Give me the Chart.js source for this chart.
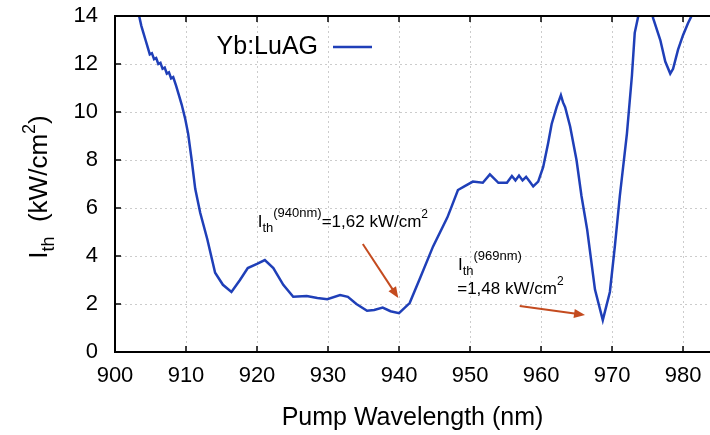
<!DOCTYPE html>
<html>
<head>
<meta charset="utf-8">
<script src="https://cdn.jsdelivr.net/npm/chart.js@4"></script>
<style>
body{margin:0;background:#fff;}
#wrap{width:710px;height:435px;position:relative;}
</style>
</head>
<body>
<div id="wrap"><canvas id="thrChart"></canvas></div>
<script>
/* DATA */
const wavelength = [903.0,903.4,903.7,904.0,904.3,904.6,904.9,905.2,905.5,905.8,906.1,906.4,906.7,907.0,907.3,907.6,907.9,908.2,908.6,909.0,909.4,909.9,910.3,910.8,911.3,912.0,913.0,914.1,915.2,916.4,917.6,918.7,920.0,921.1,922.3,923.7,925.1,927.0,928.5,929.9,931.7,932.8,934.0,935.5,936.5,937.7,938.8,940.0,941.5,943.0,944.8,946.8,947.2,948.3,949.2,950.4,951.8,952.8,954.0,955.2,955.9,956.4,956.9,957.4,957.9,958.4,958.9,959.6,960.3,961.0,961.5,962.2,962.8,963.1,963.4,964.1,965.0,965.7,966.5,967.6,968.7,969.7,970.4,971.1,972.1,972.8,973.2,973.7,974.3,975.3,975.8,976.8,977.5,978.2,978.6,979.3,980.0,980.7,981.2,982.0];
const threshold = [14.4,14.0,13.6,13.3,13.0,12.7,12.4,12.45,12.2,12.25,12.0,12.05,11.8,11.85,11.6,11.65,11.4,11.45,11.1,10.7,10.3,9.7,9.1,8.0,6.8,5.8,4.7,3.3,2.8,2.5,3.0,3.5,3.67,3.83,3.5,2.8,2.3,2.33,2.25,2.2,2.37,2.3,2.0,1.72,1.75,1.85,1.7,1.62,2.04,3.1,4.4,5.6,5.9,6.75,6.9,7.1,7.05,7.4,7.05,7.05,7.33,7.15,7.35,7.15,7.3,7.1,6.9,7.1,7.7,8.7,9.5,10.2,10.7,10.4,10.2,9.4,8.0,6.5,5.1,2.6,1.33,2.5,4.4,6.5,9.1,11.5,13.3,14.0,15.0,14.5,13.9,13.0,12.1,11.6,11.8,12.6,13.2,13.7,14.0,14.6];
const xTicks = [900,910,920,930,940,950,960,970,980];
const yTicks = [0,2,4,6,8,10,12,14];

const FONT = "'Liberation Sans', Arial, Helvetica, sans-serif";
const ARROW = '#c44b1f';

/* draw text made of pieces (sub / superscripts) */
function richText(ctx, x, y, parts){
let cx = x;
parts.forEach(p=>{
ctx.font = p.s + 'px ' + FONT;
ctx.fillText(p.t, cx, y + (p.dy || 0));
cx += ctx.measureText(p.t).width;
});
}
function richWidth(ctx, parts){
let w = 0;
parts.forEach(p=>{ ctx.font = p.s + 'px ' + FONT; w += ctx.measureText(p.t).width; });
return w;
}
function arrow(ctx, x1, y1, x2, y2){
const a = Math.atan2(y2-y1, x2-x1), L = 11, W = 4.5;
ctx.save();
ctx.strokeStyle = ARROW; ctx.fillStyle = ARROW; ctx.lineWidth = 2;
ctx.beginPath(); ctx.moveTo(x1,y1);
ctx.lineTo(x2 - Math.cos(a)*L*0.8, y2 - Math.sin(a)*L*0.8); ctx.stroke();
ctx.beginPath();
ctx.moveTo(x2,y2);
ctx.lineTo(x2 - Math.cos(a)*L + Math.sin(a)*W, y2 - Math.sin(a)*L - Math.cos(a)*W);
ctx.lineTo(x2 - Math.cos(a)*L - Math.sin(a)*W, y2 - Math.sin(a)*L + Math.cos(a)*W);
ctx.closePath(); ctx.fill();
ctx.restore();
}

/* FRAME, INNER TICKS, LEGEND, LABELS */
const decor = {
id:'decor',
afterDatasetsDraw(chart){
const ctx = chart.ctx, a = chart.chartArea;
const sx = chart.scales.x, sy = chart.scales.y;
ctx.save();
ctx.strokeStyle = '#000'; ctx.lineWidth = 1.5;
xTicks.forEach(v=>{
const px = sx.getPixelForValue(v);
ctx.beginPath(); ctx.moveTo(px, a.bottom); ctx.lineTo(px, a.bottom-6); ctx.stroke();
ctx.beginPath(); ctx.moveTo(px, a.top); ctx.lineTo(px, a.top+6); ctx.stroke();
});
yTicks.forEach(v=>{
const py = sy.getPixelForValue(v);
ctx.beginPath(); ctx.moveTo(a.left, py); ctx.lineTo(a.left+6, py); ctx.stroke();
});
ctx.lineWidth = 2;
ctx.beginPath();
ctx.moveTo(a.right, a.top); ctx.lineTo(a.left, a.top);
ctx.lineTo(a.left, a.bottom); ctx.lineTo(a.right, a.bottom);
ctx.stroke();
ctx.restore();
},
afterDraw(chart){
const ctx = chart.ctx, a = chart.chartArea;
const sx = chart.scales.x, sy = chart.scales.y;
ctx.save();
ctx.fillStyle = '#000';
ctx.textBaseline = 'alphabetic';

/* legend */
ctx.font = '25px ' + FONT;
ctx.textAlign = 'right';
ctx.fillText('Yb:LuAG', 318, 54);
ctx.textAlign = 'left';
ctx.strokeStyle = '#1f3fb8'; ctx.lineWidth = 2.5;
ctx.beginPath(); ctx.moveTo(333, 47); ctx.lineTo(372, 47); ctx.stroke();

/* y axis title */
const yt = [{t:'I',s:26},{t:'th',s:18,dy:7},{t:'  (kW/cm',s:26},{t:'2',s:18,dy:-12},{t:')',s:26}];
const w = richWidth(ctx, yt);
ctx.save();
ctx.translate(47, (a.top + a.bottom)/2 + 3);
ctx.rotate(-Math.PI/2);
richText(ctx, -w/2, 0, yt);
ctx.restore();

/* annotations */
richText(ctx, sx.getPixelForValue(920.1), sy.getPixelForValue(5.2),
[{t:'I',s:17},{t:'th',s:13,dy:5},{t:'(940nm)',s:13,dy:-10},{t:'=1,62 kW/cm',s:17},{t:'2',s:12,dy:-9}]);
richText(ctx, sx.getPixelForValue(948.3), sy.getPixelForValue(3.42),
[{t:'I',s:17},{t:'th',s:13,dy:5},{t:'(969nm)',s:13,dy:-10}]);
richText(ctx, sx.getPixelForValue(948.2), sy.getPixelForValue(2.42),
[{t:'=1,48 kW/cm',s:17},{t:'2',s:12,dy:-9}]);
arrow(ctx, sx.getPixelForValue(934.9), sy.getPixelForValue(4.5), sx.getPixelForValue(939.9), sy.getPixelForValue(2.25));
arrow(ctx, sx.getPixelForValue(957.0), sy.getPixelForValue(1.92), sx.getPixelForValue(966.2), sy.getPixelForValue(1.54));
ctx.restore();
}
};

/* LINE CHART */
const grid = {color:'#cccccc', lineWidth:1, drawTicks:false};
const tickFont = {family:FONT, size:22};

const thrChart = new Chart(
document.getElementById('thrChart'),
{
type:'line',
data:{
datasets:[
{
label:'Yb:LuAG',
data:wavelength.map((x,i)=>({x:x, y:threshold[i]})),
borderColor:'#1f3fb8',
borderWidth:2.5,
pointRadius:0,
tension:0,
clip:0
}
]
},
options:{
responsive:true,
maintainAspectRatio:false,
animation:false,
layout:{padding:{top:16,right:0,left:0,bottom:0}},
plugins:{legend:{display:false}, tooltip:{enabled:false}},
scales:{
x:{
type:'linear', min:900, max:983.8,
afterBuildTicks:s=>{ s.ticks = xTicks.map(v=>({value:v})); },
afterFit:s=>{ s.height = 83; s.paddingLeft = 0; s.paddingRight = 0; },
grid:grid,
border:{display:false, dash:[2,3]},
ticks:{font:tickFont, color:'#000', padding:11, maxRotation:0, autoSkip:false},
title:{display:true, text:'Pump Wavelength (nm)', color:'#000', font:{family:FONT, size:25}, padding:{top:0,bottom:2}}
},
y:{
type:'linear', min:0, max:14,
afterBuildTicks:s=>{ s.ticks = yTicks.map(v=>({value:v})); },
afterFit:s=>{ s.width = 115; s.paddingTop = 0; s.paddingBottom = 0; },
grid:grid,
border:{display:false, dash:[2,3]},
ticks:{font:tickFont, color:'#000', padding:17}
}
}
},
plugins:[decor]
}
);
</script>
</body>
</html>
